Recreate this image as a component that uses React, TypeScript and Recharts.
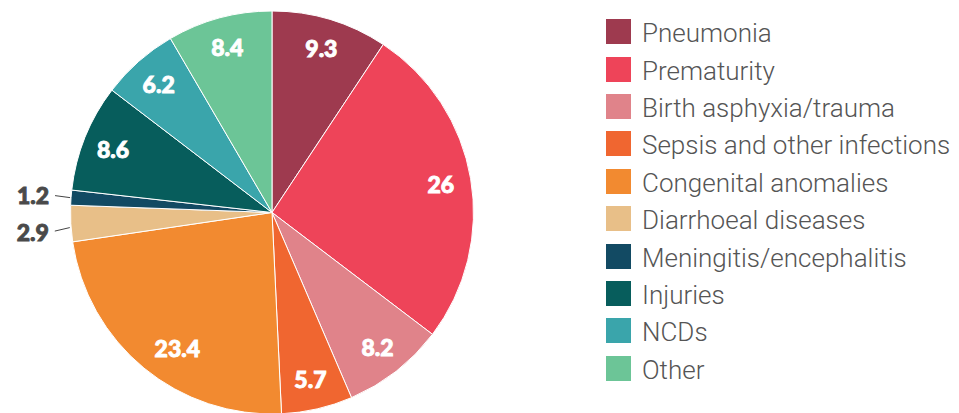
import { PieChart, Pie, Cell, Legend } from "recharts"

const causes = [
  "Pneumonia",
  "Prematurity",
  "Birth asphyxia/trauma",
  "Sepsis and other infections",
  "Congenital anomalies",
  "Diarrhoeal diseases",
  "Meningitis/encephalitis",
  "Injuries",
  "NCDs",
  "Other",
]
const shares = [9.3, 26, 8.2, 5.7, 23.4, 2.9, 1.2, 8.6, 6.2, 8.4]
const colors = [
  "#9e3a4f",
  "#ee4459",
  "#e0838a",
  "#f06630",
  "#f28a30",
  "#e8bf88",
  "#124a63",
  "#075d5c",
  "#3aa5ab",
  "#6cc597",
]

const data = causes.map((name, i) => ({ name, value: shares[i] }))
const RAD = Math.PI / 180

// ajuste fino de la etiqueta de la porción grande (grados, radio relativo)
const nudge: Record<string, [number, number]> = {
  "Congenital anomalies": [4.5, 0.82],
}

const renderLabel = (props: any) => {
  const { cx, cy, midAngle, outerRadius, value, name } = props
  if (value < 5) {
    const cos = Math.cos(-midAngle * RAD)
    const sin = Math.sin(-midAngle * RAD)
    const ex = cx + outerRadius * cos
    const ey = cy + outerRadius * sin
    const small = value < 2
    return (
      <g>
        <line
          x1={ex - 1}
          y1={ey + (small ? 0 : 4)}
          x2={ex - 16}
          y2={ey + (small ? -2 : 7.5)}
          stroke="#444"
          strokeWidth={1}
        />
        <text
          x={ex - 22}
          y={ey + (small ? -2.4 : 8.5)}
          textAnchor="end"
          dominantBaseline="central"
          fill="#4a4a4a"
          stroke="#4a4a4a"
          strokeWidth={0.9}
          fontFamily="Lato, sans-serif"
          fontWeight={900}
          fontSize={23}
        >
          {value}
        </text>
      </g>
    )
  }
  const [da, rr] = nudge[name] || [0, 0.85]
  const a = -(midAngle + da) * RAD
  const r = outerRadius * rr
  return (
    <text
      x={cx + r * Math.cos(a)}
      y={cy + r * Math.sin(a)}
      textAnchor="middle"
      dominantBaseline="central"
      fill="#fff"
      stroke="#fff"
      strokeWidth={0.9}
      fontFamily="Lato, sans-serif"
      fontWeight={900}
      fontSize={23}
    >
      {value}
    </text>
  )
}

const renderLegend = () => (
  <div>
    {causes.map((c, i) => (
      <div key={c} style={{ display: "flex", alignItems: "center", height: 37.4 }}>
        <span style={{ width: 25, height: 25, background: colors[i], marginRight: 11, flexShrink: 0 }} />
        <span
          style={{
            fontFamily: "Roboto, sans-serif",
            fontWeight: 300,
            fontSize: 26,
            color: "#555",
            whiteSpace: "nowrap",
            position: "relative",
            top: 1.5,
          }}
        >
          {c}
        </span>
      </div>
    ))}
  </div>
)

export default function App() {
  return (
    <div style={{ position: "absolute", left: 0, top: 0, width: 959, height: 413, background: "#fff" }}>
      <PieChart width={959} height={413} margin={{ top: 0, right: 0, bottom: 0, left: 0 }}>
        <Pie
          data={data}
          dataKey="value"
          nameKey="name"
          cx={272}
          cy={212.5}
          outerRadius={201.5}
          startAngle={90}
          endAngle={-270}
          stroke="#fff"
          strokeWidth={1}
          label={renderLabel}
          labelLine={false}
          isAnimationActive={false}
        >
          {data.map((d, i) => (
            <Cell key={d.name} fill={colors[i]} />
          ))}
        </Pie>
        <Legend
          content={renderLegend}
          wrapperStyle={{ position: "absolute", left: 606, top: 13, width: 353 }}
        />
      </PieChart>
    </div>
  )
}
